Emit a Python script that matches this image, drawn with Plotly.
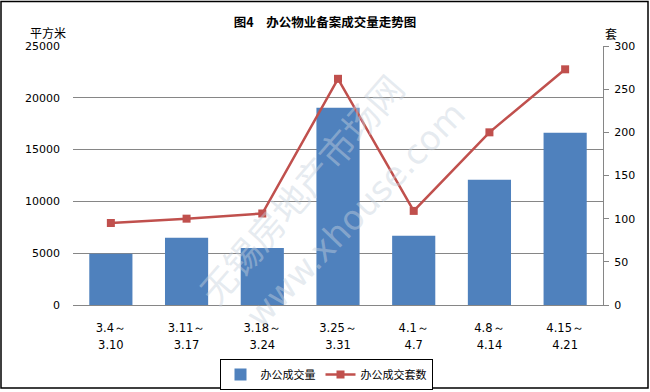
import plotly.graph_objects as go

categories = ["3.4～\n3.10", "3.11～\n3.17", "3.18～\n3.24", "3.25～\n3.31", "4.1～\n4.7", "4.8～\n4.14", "4.15～\n4.21"]
area_values = [4950, 6480, 5500, 19050, 6680, 12080, 16620]
unit_values = [95, 100, 106, 262, 109, 200, 273]
left_ticks = [0, 5000, 10000, 15000, 20000, 25000]
right_ticks = [0, 50, 100, 150, 200, 250, 300]

W, H = 650, 392
L, R, T, B = 73, 47, 46, 87
pw, ph = W - L - R, H - T - B

def px_x(p):
    return (p - L) / pw

def px_y(p):
    return (H - B - p) / ph

tick_text = ["<span style='font-size:11.5px'>" + c.split("\n")[0] + "</span><br><span style='font-size:11.5px'>" + c.split("\n")[1] + "</span>" for c in categories]

fig = go.Figure()
fig.add_trace(go.Bar(
    x=categories, y=area_values, name="办公成交量",
    marker=dict(color="#4F81BD", line=dict(width=0)),
    width=0.57, yaxis="y",
))
fig.add_trace(go.Scatter(
    x=categories, y=unit_values, name="办公成交套数",
    mode="lines+markers",
    line=dict(color="#C0504D", width=2.5),
    marker=dict(symbol="square", size=8, color="#C0504D"),
    yaxis="y2",
))

fig.update_layout(
    width=W, height=H, autosize=False,
    margin=dict(l=L, r=R, t=T, b=B, pad=0, autoexpand=False),
    paper_bgcolor="white", plot_bgcolor="white",
    font=dict(family="DejaVu Sans, Noto Sans CJK SC", size=11, color="#000000"),
    title=dict(text="<b>图4　办公物业备案成交量走势图</b>", x=0.5, xanchor="center",
               y=1 - 23 / H, yanchor="middle", automargin=False,
               font=dict(family="Noto Sans CJK SC", size=12.5, color="#000000")),
    bargap=0.43,
    showlegend=True,
    legend=dict(orientation="h", x=px_x(326), xanchor="center", y=px_y(359), yanchor="top",
                bordercolor="#000000", borderwidth=1, bgcolor="white",
                font=dict(family="Noto Sans CJK SC", size=11, color="#000000"),
                itemwidth=30, tracegroupgap=0),
    xaxis=dict(
        tickmode="array", tickvals=categories, ticktext=tick_text,
        tickfont=dict(size=13, family="DejaVu Sans", color="#000000"),
        showline=True, linecolor="#868686", linewidth=1,
        ticks="", showgrid=False, ticklabelstandoff=10, automargin=False,
    ),
    yaxis=dict(
        range=[0, 25000], tickmode="array", tickvals=left_ticks,
        ticktext=[str(v) for v in left_ticks],
        showgrid=True, gridcolor="#868686", gridwidth=1,
        showline=False, zeroline=False, ticks="",
        ticklabelstandoff=12, automargin=False,
        tickfont=dict(size=11, family="DejaVu Sans", color="#000000"),
    ),
    yaxis2=dict(
        range=[0, 300], overlaying="y", side="right", tickmode="array",
        tickvals=right_ticks, ticktext=[str(v) for v in right_ticks],
        showgrid=False, zeroline=False,
        showline=True, linecolor="#868686", linewidth=1,
        ticks="outside", ticklen=5, tickcolor="#868686",
        ticklabelstandoff=3, automargin=False,
        tickfont=dict(size=11, family="DejaVu Sans", color="#000000"),
    ),
    shapes=[dict(type="rect", xref="paper", yref="paper",
                 x0=px_x(1), x1=px_x(648), y0=px_y(388), y1=px_y(1.5),
                 line=dict(color="#000000", width=1.5), fillcolor="rgba(0,0,0,0)", layer="below")],
    annotations=[
        dict(text="平方米", xref="paper", yref="paper", x=px_x(48), y=px_y(32),
             showarrow=False, xanchor="center", yanchor="middle",
             font=dict(family="Noto Sans CJK SC", size=12, color="#000000")),
        dict(text="套", xref="paper", yref="paper", x=px_x(611), y=px_y(33),
             showarrow=False, xanchor="center", yanchor="middle",
             font=dict(family="Noto Sans CJK SC", size=12, color="#000000")),
        dict(text="无锡房地产市场网", xref="paper", yref="paper", x=px_x(300), y=px_y(188),
             showarrow=False, textangle=-49,
             font=dict(family="Noto Sans CJK SC", size=36, color="rgba(200,210,222,0.45)")),
        dict(text="www.xhouse.com", xref="paper", yref="paper", x=px_x(355), y=px_y(215),
             showarrow=False, textangle=-46,
             font=dict(family="DejaVu Sans", size=34, color="rgba(200,210,222,0.45)")),
    ],
)

fig.write_html("out.html", config={"displayModeBar": False},
               post_script="document.body.style.margin='0';document.body.style.padding='0';")
